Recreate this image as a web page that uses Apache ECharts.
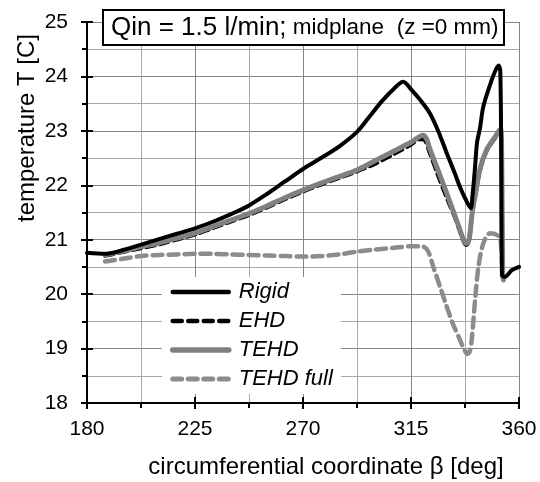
<!DOCTYPE html>
<html><head><meta charset="utf-8">
<script src="https://cdn.jsdelivr.net/npm/echarts@6/dist/echarts.min.js"></script>
<style>html,body{margin:0;padding:0;background:#fff}#c{width:540px;height:482px}</style>
</head><body><div id="c"></div>
<script>
const seriesNames = ['Rigid', 'EHD', 'TEHD', 'TEHD full'];
const titleMain = 'Qin = 1.5 l/min;';
const titleSub = ' midplane  (z =0 mm)';
const xName = 'circumferential coordinate \u03b2 [deg]';
const yName = 'temperature T [C]';

const rigidX = [180,187.5,195,202.5,210,217.5,225,232.5,240,247.5,255,262.5,270,277.5,285,292.5,297.5,303,308,311.7,315.3,319,322.9,326.5,329.9,333,335.4,338,339.9,340.6,341.7,342.5,343.75,345.1,347.9,350,351.5,352.2,352.6,352.9,354.2,357,360];
const rigidY = [20.76,20.74,20.81,20.91,21.01,21.11,21.21,21.33,21.47,21.63,21.84,22.07,22.3,22.5,22.71,22.98,23.25,23.55,23.78,23.9,23.75,23.56,23.32,22.98,22.59,22.25,21.97,21.72,21.58,21.8,22.34,22.78,23.05,23.44,23.84,24.09,24.2,24.1,22.5,20.35,20.32,20.44,20.5];

const ehdX = [187.5,195,202.5,210,217.5,225,232.5,240,247.5,255,262.5,270,277.5,285,292.5,300,307.5,315,318.5,320.5,322.5,326,329.5,333,335.4,337,338,339,339.6,340.5,341.7,343.75,346.5,350,352.3,352.8,353.2,353.5];
const ehdY = [20.70,20.77,20.84,20.91,21.00,21.09,21.21,21.33,21.45,21.59,21.74,21.88,22.01,22.13,22.25,22.39,22.56,22.74,22.84,22.83,22.62,22.2,21.8,21.43,21.14,20.95,20.9,20.94,21.08,21.46,21.76,22.26,22.62,22.86,23.0,22.5,20.38,20.26];

const tehdX = [187.5,195,202.5,210,217.5,225,232.5,240,247.5,255,262.5,270,277.5,285,292.5,300,307.5,315,318,320,321.5,323,326.5,329.9,333,335.4,337,338,339,339.6,340.5,341.7,343.75,346.5,350,352.3,352.8,353.2,353.5];
const tehdY = [20.72,20.79,20.87,20.94,21.03,21.12,21.24,21.36,21.48,21.62,21.77,21.91,22.04,22.16,22.28,22.45,22.62,22.79,22.88,22.92,22.85,22.65,22.25,21.85,21.48,21.18,20.98,20.93,20.97,21.12,21.5,21.8,22.3,22.65,22.89,23.04,22.5,20.38,20.26];

const fullX = [187.5,195,202.5,210,217.5,225,232.5,240,247.5,255,262.5,270,277.5,285,292.5,300,307.5,315.3,320.1,322.2,324.3,327,329.9,332.5,335.4,337,338.5,339.5,340.3,341.7,343.1,345.1,347.9,350.7,352.3,353.2];
const fullY = [20.6,20.65,20.7,20.72,20.73,20.74,20.74,20.73,20.72,20.71,20.7,20.69,20.7,20.73,20.78,20.82,20.85,20.88,20.87,20.78,20.5,20.15,19.77,19.45,19.16,19.0,18.9,18.95,19.16,19.89,20.5,20.93,21.12,21.09,21.0,20.35];

function pairs(xs, ys) { return xs.map((x, i) => [x, ys[i]]); }

const FONT = 'Liberation Sans, Arial, sans-serif';
const chart = echarts.init(document.getElementById('c'), null, {renderer: 'canvas'});

const baseX = {type: 'value', min: 180, max: 360, interval: 45, gridIndex: 0};
const baseY = {type: 'value', min: 18, max: 25, interval: 1, gridIndex: 0};

const styles = {
  'Rigid': {color: '#000', width: 4, type: 'solid'},
  'EHD': {color: '#000', width: 3.5, type: [9, 5]},
  'TEHD': {color: '#808080', width: 5, type: 'solid'},
  'TEHD full': {color: '#8c8c8c', width: 4.5, type: [10, 6]}
};
const legendStyles = {
  'Rigid': {width: 4.5, type: 'solid'},
  'EHD': {width: 4.5, type: [9, 6.5]},
  'TEHD': {width: 5.5, type: 'solid'},
  'TEHD full': {width: 5, type: [9, 6.5]}
};

chart.setOption({
  backgroundColor: '#fff',
  animation: false,
  textStyle: {fontFamily: FONT},
  grid: {left: 87, right: 21, top: 22, bottom: 79, containLabel: false},
  title: {
    left: 103, top: 9,
    text: '{a|' + titleMain + '}{b|' + titleSub + '}',
    borderColor: '#000', borderWidth: 2, backgroundColor: '#fff',
    padding: [5, 6, 4, 8],
    textStyle: {
      fontWeight: 'normal',
      rich: {
        a: {fontSize: 26, fontFamily: FONT, fontWeight: 'normal', color: '#000', lineHeight: 28},
        b: {fontSize: 22.5, fontFamily: FONT, fontWeight: 'normal', color: '#000', lineHeight: 28}
      }
    }
  },
  legend: {
    orient: 'vertical', left: 162, top: 277,
    backgroundColor: '#fff', padding: [4, 8, 4, 8],
    itemWidth: 56, itemHeight: 14, itemGap: 7,
    itemStyle: {opacity: 0},
    textStyle: {fontSize: 22, fontStyle: 'italic', color: '#000', fontFamily: FONT, padding: [0, 0, 0, 5]},
    data: seriesNames.map(n => ({
      name: n,
      itemStyle: {opacity: 0},
      lineStyle: {color: styles[n].color, width: legendStyles[n].width, type: legendStyles[n].type, cap: 'round'}
    }))
  },
  xAxis: [
    Object.assign({}, baseX, {
      axisLine: {lineStyle: {color: '#000', width: 2}},
      axisTick: {show: true, inside: false, length: 6, lineStyle: {color: '#000', width: 2}},
      minorTick: {show: true, splitNumber: 2, length: 5, lineStyle: {color: '#000', width: 2}},
      axisLabel: {fontSize: 21, color: '#000', margin: 16, fontFamily: FONT},
      splitLine: {show: true, lineStyle: {color: '#858585', width: 1}},
      minorSplitLine: {show: true, lineStyle: {color: '#a8a8a8', width: 1}}
    }),
    Object.assign({}, baseX, {
      position: 'bottom',
      axisLine: {show: false},
      axisTick: {show: true, inside: true, length: 6, lineStyle: {color: '#000', width: 2}},
      minorTick: {show: false},
      axisLabel: {show: false},
      splitLine: {show: false}
    })
  ],
  yAxis: [
    Object.assign({}, baseY, {
      axisLine: {show: true, lineStyle: {color: '#000', width: 2}},
      axisTick: {show: true, inside: false, length: 6, lineStyle: {color: '#000', width: 2}},
      minorTick: {show: true, splitNumber: 2, length: 5, lineStyle: {color: '#000', width: 2}},
      axisLabel: {fontSize: 21, color: '#000', margin: 19, fontFamily: FONT},
      splitLine: {show: true, lineStyle: {color: '#858585', width: 1}},
      minorSplitLine: {show: true, lineStyle: {color: '#a8a8a8', width: 1}}
    }),
    Object.assign({}, baseY, {
      position: 'left',
      axisLine: {show: false},
      axisTick: {show: true, inside: true, length: 6, lineStyle: {color: '#000', width: 2}},
      minorTick: {show: false},
      axisLabel: {show: false},
      splitLine: {show: false}
    })
  ],
  graphic: [
    {type: 'text', x: 326, y: 467, style: {text: xName, fontSize: 24, fontFamily: FONT, fill: '#000', textAlign: 'center', textVerticalAlign: 'middle'}},
    {type: 'text', x: 27, y: 128, rotation: Math.PI / 2, style: {text: yName, fontSize: 24, fontFamily: FONT, fill: '#000', textAlign: 'center', textVerticalAlign: 'middle'}}
  ],
  series: [
    {name: 'Rigid', type: 'line', data: pairs(rigidX, rigidY), symbol: 'none', z: 6, smooth: 0.3,
     lineStyle: Object.assign({cap: 'round', join: 'round'}, styles['Rigid']), itemStyle: {color: '#000'}},
    {name: 'EHD', type: 'line', data: pairs(ehdX, ehdY), symbol: 'none', z: 3, smooth: 0.3,
     lineStyle: Object.assign({cap: 'round', join: 'round'}, styles['EHD']), itemStyle: {color: '#000'}},
    {name: 'TEHD', type: 'line', data: pairs(tehdX, tehdY), symbol: 'none', z: 4, smooth: 0.3,
     lineStyle: Object.assign({cap: 'round', join: 'round'}, styles['TEHD']), itemStyle: {color: '#808080'}},
    {name: 'TEHD full', type: 'line', data: pairs(fullX, fullY), symbol: 'none', z: 2, smooth: 0.3,
     lineStyle: Object.assign({cap: 'round', join: 'round'}, styles['TEHD full']), itemStyle: {color: '#8c8c8c'}}
  ]
});
</script></body></html>
